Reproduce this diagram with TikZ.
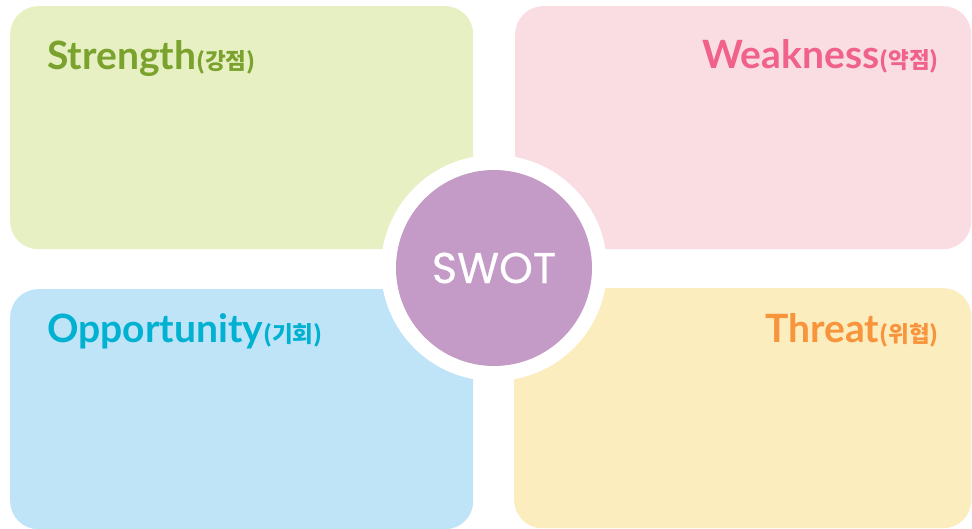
\documentclass[tikz,border=0pt]{standalone}
\usepackage{fontspec}
\setmainfont{Lato}
\newfontfamily\swotfont{Poppins}[FakeBold=0.5]
\newfontfamily\kr{Noto Sans CJK KR}
\newcommand\krsub[1]{{\kr\bfseries\fontsize{22.5}{22.5}\selectfont(#1)}}
\definecolor{sfill}{HTML}{E7F0C3}
\definecolor{stext}{HTML}{7AA22D}
\definecolor{wfill}{HTML}{F9DDE3}
\definecolor{wtext}{HTML}{F0628A}
\definecolor{ofill}{HTML}{BFE4F7}
\definecolor{otext}{HTML}{00B1D1}
\definecolor{tfill}{HTML}{FCEDBE}
\definecolor{ttext}{HTML}{F7943C}
\definecolor{swotc}{HTML}{C49AC7}
\tikzset{
  quad/.style={rectangle, rounded corners=28pt, draw=none, inner sep=0pt, anchor=north west},
  title/.style={inner sep=0pt, font=\fontsize{39}{39}\selectfont\bfseries}
}
\begin{document}
\begin{tikzpicture}[x=1pt,y=-1pt]
\useasboundingbox[fill=white] (0,0) rectangle (972,529);
\node[quad, fill=sfill, minimum width=463pt, minimum height=243pt] (S) at (10,6) {};
\node[quad, fill=wfill, minimum width=456pt, minimum height=243pt] (W) at (515,6) {};
\node[quad, fill=ofill, minimum width=463pt, minimum height=240pt] (O) at (10,289) {};
\node[quad, fill=tfill, minimum width=457pt, minimum height=240pt] (T) at (514,288) {};
\node[circle, fill=white, minimum size=226pt, inner sep=0pt] (ring) at (494,268) {};
\node[circle, fill=swotc, minimum size=196pt, inner sep=0pt, text=white,
      font=\swotfont\fontsize{43}{43}\selectfont] (swot) at (494,268) {SWOT};
\node[title, text=stext, anchor=base west] (st) at (47,70) {Strength\krsub{강점}};
\node[title, text=wtext, anchor=base east] (wt) at (939,69) {Weakness\krsub{약점}};
\node[title, text=otext, anchor=base west] (ot) at (47,343) {Opportunity\krsub{기회}};
\node[title, text=ttext, anchor=base east] (tt) at (939,342) {Threat\krsub{위협}};
\end{tikzpicture}
\end{document}
